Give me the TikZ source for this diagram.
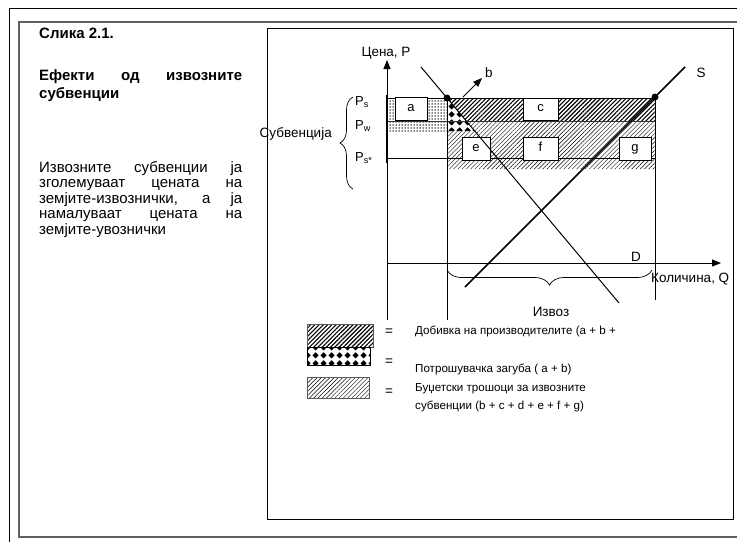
\documentclass[tikz,border=0pt]{standalone}
\usepackage{fontspec}
\setmainfont{Liberation Sans}
\usetikzlibrary{patterns,patterns.meta,arrows.meta,decorations.pathreplacing}
\tikzdeclarepattern{
  name=diamondgrid, type=uncolored,
  bottom left={(0pt,0pt)}, top right={(8pt,8pt)}, tile size={(8pt,8pt)},
  code={\fill (4pt,0.6pt) -- (7.4pt,4pt) -- (4pt,7.4pt) -- (0.6pt,4pt) -- cycle;}
}
\begin{document}
\begin{tikzpicture}[x=1pt,y=-1pt,
  frame/.style={line width=0.8pt},
  axis/.style={line width=0.9pt,-{Triangle[length=9pt,width=7pt]}},
  level/.style={line width=1pt},
  darkhatch/.style={pattern={Lines[angle=45,distance=3pt,line width=1.1pt]}},
  lighthatch/.style={pattern={Lines[angle=45,distance=3pt,line width=0.45pt]}},
  dotted area/.style={pattern={Dots[radius=0.75pt,distance=3pt]}},
  diamonds/.style={pattern=diamondgrid},
  letterbox/.style={draw,line width=0.8pt,fill=white,inner sep=0pt,text height=7pt,text depth=2pt,font=\fontsize{13}{15}\selectfont},
  lbl/.style={font=\fontsize{13.5}{15}\selectfont,inner sep=0pt},
  sub/.style={font=\fontsize{13}{15}\selectfont,inner sep=0pt,anchor=west},
  panel/.style={font=\fontsize{15}{16}\selectfont,inner sep=0pt,anchor=base west},
  paneltitle/.style={font=\bfseries\fontsize{15}{16}\selectfont,inner sep=0pt,anchor=base west},
  legend/.style={font=\fontsize{11.6}{13}\selectfont,inner sep=0pt,anchor=base west},
  dot/.style={circle,fill=black,inner sep=0pt,minimum size=7pt}
]
\useasboundingbox (0,0) rectangle (737,542);
% outer frames
\draw[frame] (737,8) -- (9,8) -- (9,542);
\draw[line width=1.5pt,gray!75!black] (737,22) -- (19,22) -- (19,537) -- (737,537);
\draw[frame] (267,28) rectangle (733,519);

% left panel
\node[paneltitle] (t0) at (39,38) {Слика 2.1.};
\node[paneltitle] (t1) at (39,80) {\makebox[203pt][s]{Ефекти од извозните}};
\node[paneltitle] (t2) at (39,98) {субвенции};
\node[panel] (p1) at (39,172) {\makebox[203pt][s]{Извозните субвенции ја}};
\node[panel] (p2) at (39,187.5) {\makebox[203pt][s]{зголемуваат цената на}};
\node[panel] (p3) at (39,203) {\makebox[203pt][s]{земјите-извознички, а ја}};
\node[panel] (p4) at (39,218.5) {\makebox[203pt][s]{намалуваат цената на}};
\node[panel] (p5) at (39,234) {земјите-увознички};

% coordinates
\coordinate (yb) at (387,320);
\coordinate (yt) at (387,60);
\coordinate (xl) at (387,263);
\coordinate (xr) at (721,263);
\coordinate (D1) at (421,67);
\coordinate (D2) at (619,303);
\coordinate (S1) at (465,287);
\coordinate (S2) at (685,67);

% shaded areas
\fill[dotted area] (387,98) rectangle (447,131);
\fill[diamonds] (447,98) -- (447,131) -- (474.7,131) -- cycle;
\fill[darkhatch] (447,98) -- (655,98) -- (655,121) -- (466.3,121) -- cycle;
\fill[lighthatch] (466.3,121) -- (655,121) -- (655,169) -- (447,169) -- (447,131) -- (474.7,131) -- cycle;

% level lines
\coordinate (psl) at (387,98);  \coordinate (psr) at (655,98);
\coordinate (pwl) at (387,121); \coordinate (pwr) at (655,121);
\coordinate (pxl) at (387,158); \coordinate (pxr) at (655,158);
\draw[level] (psl) -- (psr);
\draw[level,black!80] (pwl) -- (pwr);
\draw[level] (pxl) -- (pxr);
\coordinate (v1t) at (447,98);  \coordinate (v1b) at (447,320);
\coordinate (v2t) at (655,97);  \coordinate (v2b) at (655,300);
\draw[frame] (v1t) -- (v1b);
\draw[frame] (v2t) -- (v2b);

% axes
\draw[axis] (yb) -- (yt);
\draw[axis] (xl) -- (xr);
\coordinate (ys1) at (387,95);
\coordinate (ys2) at (387,163);
\draw[line width=1.8pt] (ys1) -- (ys2);

% letter boxes
\node[letterbox,minimum width=32pt,minimum height=23pt] (a) at (411,108.5) {a};
\node[letterbox,minimum width=35pt,minimum height=22pt] (c) at (540.5,109) {c};
\node[letterbox,minimum width=28pt,minimum height=23pt] (e) at (476,148.5) {e};
\node[letterbox,minimum width=35pt,minimum height=23pt] (f) at (540.5,148.5) {f};
\node[letterbox,minimum width=32pt,minimum height=23pt] (g) at (635,148.5) {g};

% curves
\draw[line width=1pt] (D1) -- (D2);
\draw[line width=1.7pt] (S1) -- (S2);

% equilibrium dots
\node[dot] (ew) at (447,98) {};
\node[dot] (es) at (655,97) {};

% b arrow
\node[lbl] (b) at (489,73) {b};
\coordinate (bs) at (463,97);
\coordinate (bt) at (482,78);
\draw[line width=0.9pt,-{Triangle[length=9pt,width=7pt]}] (bs) -- (bt);

% labels
\node[lbl] (cena) at (386,53) {Цена, P};
\node[lbl] (S) at (701,73) {S};
\node[lbl] (D) at (636,257) {D};
\node[lbl,anchor=west] (kol) at (651,279) {Количина, Q};
\node[lbl] (izvoz) at (551,312) {Извоз};
\node[sub] (ps) at (355,102) {P\textsubscript{s}};
\node[sub] (pw) at (355,126) {P\textsubscript{w}};
\node[sub] (px) at (355,158) {P\textsubscript{s*}};
\node[lbl,anchor=east] (subv) at (332,134) {Субвенција};
\coordinate (brb) at (353,189);
\coordinate (brt) at (353,97);
\draw[line width=0.7pt,decorate,decoration={brace,amplitude=13pt}] (brb) -- (brt);
\coordinate (qbr) at (652,270);
\coordinate (qbl) at (447,270);
\draw[line width=0.7pt,decorate,decoration={brace,amplitude=15pt}] (qbr) -- (qbl);

% legend
\draw[darkhatch] (307,324) rectangle (373,347);
\draw[gray!70!black,line width=0.8pt] (307,324) rectangle (373,347);
\fill[white] (307,347) rectangle (370,365);
\fill[diamonds] (307,347) rectangle (370,365);
\draw[line width=0.8pt] (307,347) rectangle (370,365);
\fill[lighthatch] (307,377) rectangle (369,398);
\draw[gray!70!black,line width=0.8pt] (307,377) rectangle (369,398);
\node[lbl] (eq1) at (389,332) {=};
\node[lbl] (eq2) at (389,362) {=};
\node[lbl] (eq3) at (389,392) {=};
\node[legend] (l1) at (415,334) {Добивка на производителите (a + b +};
\node[legend] (l2) at (415,372) {Потрошувачка загуба ( a + b)};
\node[legend] (l3) at (415,391) {Буџетски трошоци за извозните};
\node[legend] (l4) at (415,409) {субвенции (b + c + d + e + f + g)};
\end{tikzpicture}
\end{document}
